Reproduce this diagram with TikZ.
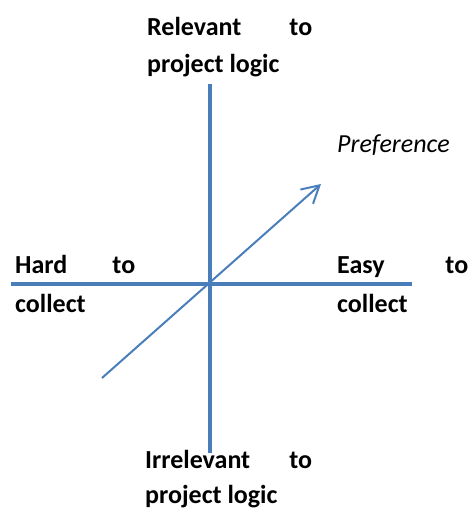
\documentclass[tikz,border=0pt]{standalone}
\usepackage{fontspec}
\setmainfont{Carlito}
\usetikzlibrary{arrows.meta}
\definecolor{axisblue}{RGB}{74,126,187}
\begin{document}
\begin{tikzpicture}[x=1pt,y=-1pt,
  lbl/.style={font=\fontsize{26}{31}\selectfont\bfseries, inner sep=0pt, anchor=base west},
  axis/.style={draw=axisblue, line width=4pt},
  pref/.style={draw=axisblue, line width=2pt, -{Straight Barb[length=17pt,width=19pt]}}]
\useasboundingbox (0,0) rectangle (471,512);
% axes
\coordinate (vt) at (210,84);
\coordinate (vb) at (210,453);
\coordinate (hl) at (11,284);
\coordinate (hr) at (412,284);
\coordinate (ds) at (102,378);
\coordinate (de) at (321,184);
\draw[axis] (vt) -- (vb);
\draw[axis] (hl) -- (hr);
\draw[pref] (ds) -- (de);
% labels
\node[lbl] (rel1) at (147,35) {\makebox[165pt][s]{Relevant to}};
\node[lbl] (rel2) at (147,72) {project logic};
\node[lbl] (irr1) at (145,468) {\makebox[167pt][s]{Irrelevant to}};
\node[lbl] (irr2) at (145,503) {project logic};
\node[lbl] (hard1) at (15,273) {\makebox[120pt][s]{Hard to}};
\node[lbl] (hard2) at (15,312) {collect};
\node[lbl] (easy1) at (337,273) {\makebox[131pt][s]{Easy to}};
\node[lbl] (easy2) at (337,312) {collect};
\node[lbl, font=\fontsize{26}{31}\selectfont\itshape] (prefl) at (337,152) {Preference};
\end{tikzpicture}
\end{document}
